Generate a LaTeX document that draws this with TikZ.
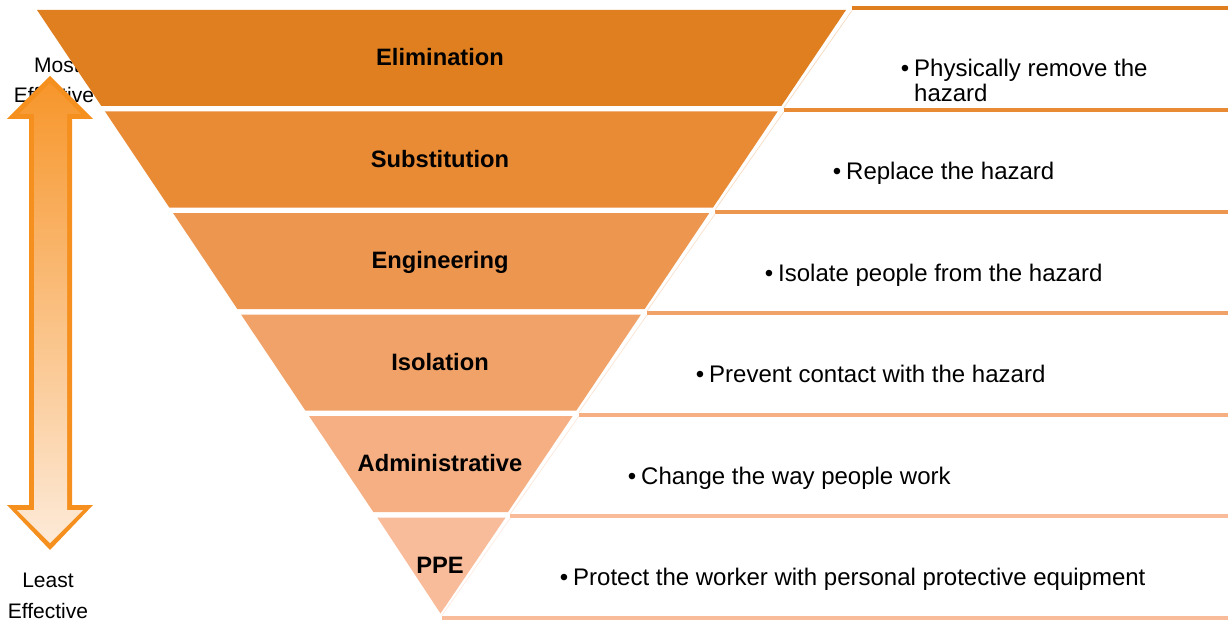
\documentclass[tikz,border=0pt]{standalone}
\usepackage{fontspec}
\setmainfont{Liberation Sans}
\definecolor{lvA}{HTML}{DF7F1F}
\definecolor{lvB}{HTML}{E98A34}
\definecolor{lvC}{HTML}{ED9650}
\definecolor{lvD}{HTML}{F1A268}
\definecolor{lvE}{HTML}{F5AF82}
\definecolor{lvF}{HTML}{F9BC9B}
\definecolor{arrowline}{HTML}{F5901F}
\definecolor{arrowtop}{HTML}{F7962B}
\definecolor{arrowbot}{HTML}{FDEAD8}
\begin{document}
\begin{tikzpicture}[x=1pt,y=-1pt,
  level/.style={font=\bfseries\fontsize{23.7}{28}\selectfont, anchor=base, inner sep=0pt},
  desc/.style={font=\fontsize{24}{25}\selectfont, anchor=base west, inner sep=0pt, align=left},
  side/.style={font=\fontsize{21}{30}\selectfont, anchor=base, inner sep=0pt},
  bandline/.style={line width=4pt},
  faint/.style={line width=0.7pt}]
\useasboundingbox (0,0) rectangle (1228,623);

% side captions (partly covered by the pyramid and the arrow)
\node[side] (most) at (57,73) {Most};
\node[side] (mosteff) at (54,103) {Effective};
\node[side] (least) at (48,587) {Least};
\node[side] (leasteff) at (48,618) {Effective};

% pyramid bands: left edge x = 37 + 0.67 (y-10), right edge x = 846 - 0.6733 (y-10)
\foreach \i/\c in {0/lvA,1/lvB,2/lvC,3/lvD,4/lvE} {
  \pgfmathsetmacro\yt{10+101.5*\i}
  \pgfmathsetmacro\yb{106+101.5*\i}
  \pgfmathsetmacro\xlt{37+(\yt-10)*0.67}
  \pgfmathsetmacro\xlb{37+(\yb-10)*0.67}
  \pgfmathsetmacro\xrt{846-(\yt-10)*0.6733}
  \pgfmathsetmacro\xrb{846-(\yb-10)*0.6733}
  \fill[\c] (\xlt,\yt) -- (\xrt,\yt) -- (\xrb,\yb) -- (\xlb,\yb) -- cycle;
}
\fill[lvF] (377.2,517.5) -- (505.6,517.5) -- (440.5,613.5) -- cycle;

% horizontal rules and faint slanted borders of the text panels
\foreach \i/\c in {0/lvA,1/lvB,2/lvC,3/lvD,4/lvE,5/lvF} {
  \pgfmathsetmacro\ya{8.5+101.5*\i}
  \pgfmathsetmacro\yz{8.5+101.5*(\i+1)}
  \pgfmathsetmacro\xa{851-(\ya-10)*0.6733}
  \pgfmathsetmacro\xz{851-(\yz-10)*0.6733}
  \draw[bandline,\c] (\xa,\ya) -- (1228,\ya);
  \draw[faint,\c!30] (\xa,\ya+2) -- (\xz,\yz-2);
}
\draw[bandline,lvF] (442,617.5) -- (1228,617.5);

% double arrow: orange outline with a fading fill
\fill[arrowline] (50,76) -- (7,119) -- (29,119) -- (29,505) -- (7,505) -- (50,550)
  -- (93,505) -- (72,505) -- (72,119) -- (93,119) -- cycle;
\shade[top color=arrowtop, bottom color=arrowbot]
  (50,83) -- (19,114) -- (34,114) -- (34,510) -- (17,510) -- (50,543)
  -- (83,510) -- (67,510) -- (67,114) -- (81,114) -- cycle;

% level names
\node[level] (elim) at (440,65.5) {Elimination};
\node[level] (subst) at (440,167) {Substitution};
\node[level] (eng) at (440,268.5) {Engineering};
\node[level] (iso) at (440,370) {Isolation};
\node[level] (admin) at (440,471.5) {Administrative};
\node[level] (ppe) at (440,573) {PPE};

% descriptions (a multi-line node sits on the baseline of its last line)
\newcommand{\bul}{\llap{\textbullet\hspace{5pt}}}
\node[desc] (delim) at (914,102) {\bul Physically remove the\\hazard};
\node[desc] (dsubst) at (846,179.5) {\bul Replace the hazard};
\node[desc] (deng) at (778,281) {\bul Isolate people from the hazard};
\node[desc] (diso) at (709,382.5) {\bul Prevent contact with the hazard};
\node[desc] (dadmin) at (641,484) {\bul Change the way people work};
\node[desc] (dppe) at (573,585.5) {\bul Protect the worker with personal protective equipment};
\end{tikzpicture}
\end{document}
